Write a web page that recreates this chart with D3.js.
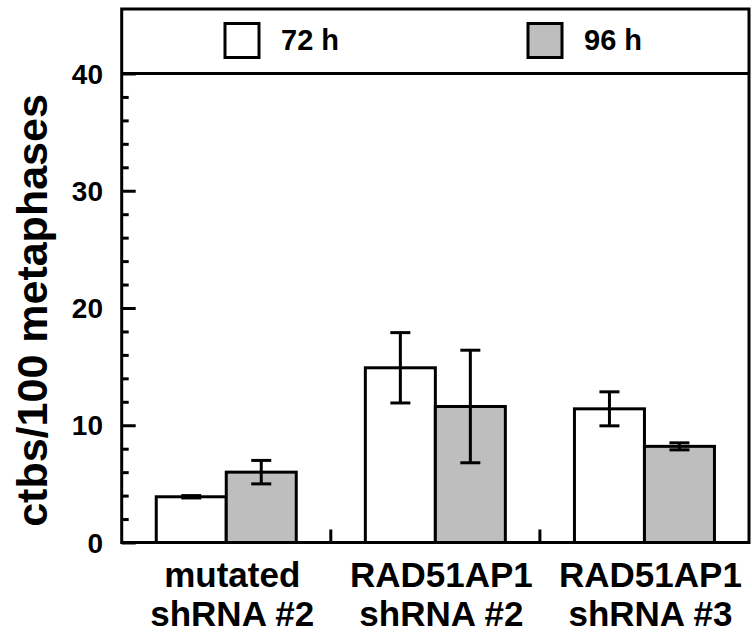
<!DOCTYPE html>
<html>
<head>
<meta charset="utf-8">
<script src="https://cdn.jsdelivr.net/npm/d3@7"></script>
<style>
  html, body { margin: 0; padding: 0; background: #fff; }
  svg text { font-family: "Liberation Sans", Arial, Helvetica, sans-serif; font-weight: bold; fill: #000; }
</style>
</head>
<body>
<svg id="chart" width="752" height="632"></svg>
<script>
// ---- data ----
const categories = [["mutated", "shRNA #2"], ["RAD51AP1", "shRNA #2"], ["RAD51AP1", "shRNA #3"]];
const seriesNames = ["72 h", "96 h"];
const mean72 = [3.9, 14.9, 11.4];
const err72 = [0.1, 3.0, 1.45];
const mean96 = [6.0, 11.6, 8.2];
const err96 = [1.0, 4.8, 0.3];
const majorTicks = [0, 10, 20, 30, 40];
const minorTicks = [2, 4, 6, 8, 12, 14, 16, 18, 22, 24, 26, 28, 32, 34, 36, 38];
const yLabel = "ctbs/100 metaphases";

const seriesColors = ["#ffffff", "#bebebe"];
const means = [mean72, mean96];
const errs = [err72, err96];

(function () {
const svg = d3.select("#chart");
const mLeft = 121.7, mRight = 749, mTop = 9, mBottom = 542.5;

const y = d3.scaleLinear().domain([0, 45.5]).range([mBottom, mTop]);
const x = d3.scaleBand().domain(d3.range(categories.length)).range([mLeft, mRight]).paddingInner(0).paddingOuter(0);
const barW = 70;
const inner = d3.scaleBand().domain(d3.range(seriesNames.length)).range([0, barW * 2]);
const groupOffset = (x.bandwidth() - barW * 2) / 2;

// bars
const rows = [];
categories.forEach((c, i) => seriesNames.forEach((s, j) => rows.push({ i, j, v: means[j][i], e: errs[j][i] })));

svg.append("g").selectAll("rect").data(rows).join("rect")
  .attr("x", d => x(d.i) + groupOffset + inner(d.j))
  .attr("width", inner.bandwidth())
  .attr("y", d => y(d.v))
  .attr("height", d => y(0) - y(d.v))
  .attr("fill", d => seriesColors[d.j])
  .attr("stroke", "#000")
  .attr("stroke-width", 3);

// error bars
const capW = 20;
const eg = svg.append("g").attr("stroke", "#000").attr("stroke-width", 3).attr("fill", "none");
rows.forEach(d => {
  const cx = x(d.i) + groupOffset + inner(d.j) + inner.bandwidth() / 2;
  const y1 = y(d.v + d.e), y2 = y(d.v - d.e);
  eg.append("line").attr("x1", cx).attr("x2", cx).attr("y1", y1).attr("y2", y2);
  eg.append("line").attr("x1", cx - capW / 2).attr("x2", cx + capW / 2).attr("y1", y1).attr("y2", y1);
  eg.append("line").attr("x1", cx - capW / 2).attr("x2", cx + capW / 2).attr("y1", y2).attr("y2", y2);
});

// y axis (ticks inside)
const yAxisMajor = d3.axisRight(y).tickValues(majorTicks).tickSize(14).tickFormat("");
const yAxisMinor = d3.axisRight(y).tickValues(minorTicks).tickSize(7).tickFormat("");
[yAxisMajor, yAxisMinor].forEach(ax => {
  const g = svg.append("g").attr("transform", `translate(${mLeft},0)`).call(ax);
  g.select(".domain").remove();
  g.selectAll(".tick line").attr("stroke", "#000").attr("stroke-width", 3);
});

// tick labels
svg.append("g").selectAll("text").data(majorTicks).join("text")
  .attr("x", 103)
  .attr("y", d => y(d))
  .attr("dy", "0.36em")
  .attr("text-anchor", "end")
  .attr("font-size", 28)
  .text(d => d);

// x separator ticks
const sepG = svg.append("g").attr("stroke", "#000").attr("stroke-width", 3);
d3.range(1, categories.length).forEach(i => {
  sepG.append("line").attr("x1", x(i)).attr("x2", x(i)).attr("y1", mBottom).attr("y2", mBottom - 13);
});

// frame
const frame = svg.append("g").attr("stroke", "#000").attr("stroke-width", 3).attr("fill", "none");
frame.append("rect").attr("x", mLeft).attr("y", mTop).attr("width", mRight - mLeft).attr("height", mBottom - mTop);
frame.append("line").attr("x1", mLeft).attr("x2", mRight).attr("y1", y(40)).attr("y2", y(40));

// x labels
categories.forEach((c, i) => {
  const cx = x(i) + x.bandwidth() / 2 + 6;
  c.forEach((line, k) => {
    svg.append("text")
      .attr("x", cx)
      .attr("y", 587 + k * 39)
      .attr("text-anchor", "middle")
      .attr("font-size", 35)
      .text(line);
  });
});

// y label
svg.append("text")
  .attr("transform", `translate(47,${(93 + 528) / 2}) rotate(-90)`)
  .attr("text-anchor", "middle")
  .attr("font-size", 43)
  .text(yLabel);

// legend
const legendX = [225, 528];
seriesNames.forEach((s, j) => {
  svg.append("rect")
    .attr("x", legendX[j]).attr("y", 23.5)
    .attr("width", 34).attr("height", 34)
    .attr("fill", seriesColors[j]).attr("stroke", "#000").attr("stroke-width", 3);
  svg.append("text")
    .attr("x", legendX[j] + 56).attr("y", 50)
    .attr("font-size", 29)
    .text(s);
});
})();
</script>
</body>
</html>
